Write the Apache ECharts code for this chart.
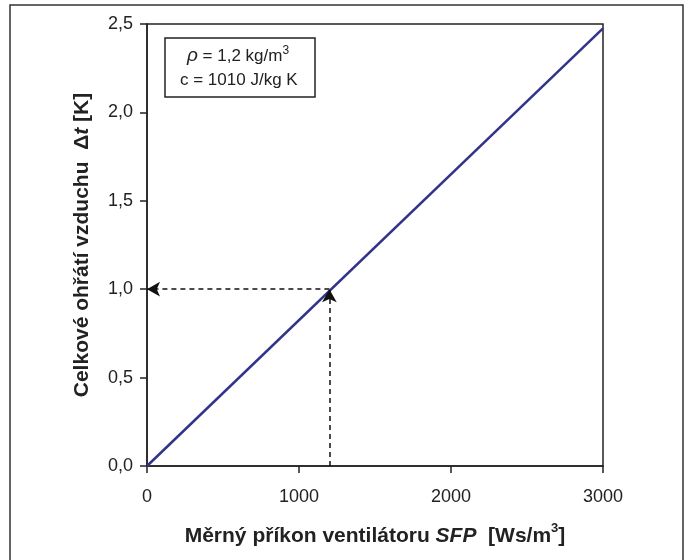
<!DOCTYPE html>
<html><head><meta charset="utf-8">
<script src="https://cdn.jsdelivr.net/npm/echarts@6/dist/echarts.min.js"></script>
<style>html,body{margin:0;padding:0;background:#fff}#c{width:688px;height:560px}</style>
</head><body><div id="c"></div>
<script>
const sfp = [0, 3000];
const deltaT = [0, 2.475];
const xTicks = [0, 1000, 2000, 3000];
const yTicks = [0, 0.5, 1.0, 1.5, 2.0, 2.5];
const markerSfp = 1200;
const markerDt = 1.0;
const FONT = '"Liberation Sans Narrow","Arial Narrow","Liberation Sans",Arial,sans-serif';

const chart = echarts.init(document.getElementById('c'));
chart.setOption({
  animation: false,
  backgroundColor: '#fff',
  grid: {left: 147, right: 85, top: 24, bottom: 94, show: true, borderColor: '#222', borderWidth: 1.5, backgroundColor: 'transparent'},
  xAxis: {
    type: 'value', min: xTicks[0], max: xTicks[xTicks.length-1], interval: 1000,
    axisLine: {show: true, lineStyle: {color: '#222', width: 1.5}},
    axisTick: {show: true, length: 7, lineStyle: {color: '#222', width: 1.5}},
    splitLine: {show: false},
    axisLabel: {color: '#222', fontFamily: FONT, fontSize: 18, margin: 22,
      formatter: v => String(v)},
    name: '{b|Měrný příkon ventilátoru }{bi|SFP}{b|  [Ws/m}{sup|3}{b|]}',
    nameLocation: 'middle', nameGap: 56, nameMoveOverlap: false,
    nameTextStyle: {rich: {
      b: {fontFamily: FONT, fontWeight: 'bold', fontSize: 21, color: '#222', verticalAlign: 'bottom'},
      bi: {fontFamily: FONT, fontWeight: 'bold', fontStyle: 'italic', fontSize: 21, color: '#222', verticalAlign: 'bottom'},
      sup: {fontFamily: FONT, fontWeight: 'bold', fontSize: 13, color: '#222', verticalAlign: 'top', padding: [0,0,12,0]}
    }}
  },
  yAxis: {
    type: 'value', min: yTicks[0], max: yTicks[yTicks.length-1], interval: 0.5,
    axisLine: {show: true, lineStyle: {color: '#222', width: 1.5}},
    axisTick: {show: true, length: 7, lineStyle: {color: '#222', width: 1.5}},
    splitLine: {show: false},
    axisLabel: {color: '#222', fontFamily: FONT, fontSize: 18, margin: 14,
      formatter: v => v.toFixed(1).replace('.', ',')},
    name: '{b|Celkové ohřátí vzduchu  Δ}{bi|t}{b| [K]}',
    nameLocation: 'middle', nameGap: 54, nameMoveOverlap: false,
    nameTextStyle: {rich: {
      b: {fontFamily: FONT, fontWeight: 'bold', fontSize: 21, color: '#222'},
      bi: {fontFamily: FONT, fontWeight: 'bold', fontStyle: 'italic', fontSize: 21, color: '#222'}
    }}
  },
  series: [
    {
      type: 'line', data: sfp.map((x, i) => [x, deltaT[i]]),
      showSymbol: false, symbol: 'none',
      lineStyle: {color: '#33338a', width: 2.5},
      markLine: {
        silent: true, animation: false,
        symbol: ['none', 'arrow'], symbolSize: [11, 13],
        lineStyle: {color: '#111', type: [5, 4], width: 1.5},
        label: {show: false},
        data: [
          [{coord: [markerSfp, markerDt]}, {coord: [0, markerDt]}],
          [{coord: [markerSfp, 0]}, {coord: [markerSfp, markerDt]}]
        ]
      }
    }
  ],
  graphic: [
    {type: 'rect', shape: {x: 10, y: 5, width: 673, height: 570}, style: {fill: 'none', stroke: '#333', lineWidth: 1.5}, silent: true},
    {type: 'rect', shape: {x: 165, y: 38, width: 150, height: 59}, style: {fill: '#fff', stroke: '#222', lineWidth: 1.5}, silent: true, z: 10},
    {type: 'text', left: 187, top: 45, z: 11, style: {
      text: '{i|ρ}{n| = 1,2 kg/m}{s|3}',
      rich: {
        i: {fontFamily: FONT, fontStyle: 'italic', fontSize: 19, fill: '#222'},
        n: {fontFamily: FONT, fontSize: 17, fill: '#222'},
        s: {fontFamily: FONT, fontSize: 12, fill: '#222', verticalAlign: 'top', padding: [0,0,10,0]}
      }}},
    {type: 'text', left: 180, top: 72, z: 11, style: {
      text: 'c = 1010 J/kg K', fontFamily: FONT, fontSize: 17, fill: '#222'}}
  ]
});
</script>
</body></html>
